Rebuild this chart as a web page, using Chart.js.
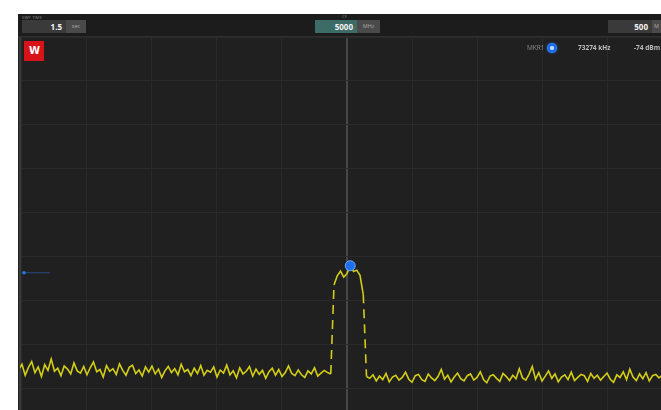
<!DOCTYPE html>
<html>
<head>
<meta charset="utf-8">
<script src="https://cdn.jsdelivr.net/npm/chart.js@4/dist/chart.umd.min.js"></script>
<style>
  html, body { margin: 0; padding: 0; background: #ffffff; }
  body { width: 661px; height: 410px; overflow: hidden; position: relative; font-family: "Open Sans", "Noto Sans", sans-serif; }
  #panel { position: absolute; left: 18px; top: 14px; width: 643px; height: 396px; background: #202020; overflow: hidden; }
  #bar { position: absolute; left: 0; top: 0; width: 643px; height: 22px; background: #1c1c1c; border-bottom: 1px solid #2e2e2e; }
  #wrap { position: absolute; left: 0; top: 0; width: 643px; height: 396px; }
  .lbl { position: absolute; color: #8a8a8a; font-size: 4px; line-height: 4px; letter-spacing: 0.2px; }
  .box { position: absolute; height: 13px; display: flex; }
  .val { background: #3a3a3a; color: #f2f2f2; font-weight: 700; font-size: 8px; line-height: 13px; text-align: right; padding-right: 4px; box-sizing: border-box; }
  .unit { background: #4a4a4a; color: #a8a8a8; font-size: 5.5px; line-height: 13px; text-align: center; overflow: hidden; }
  #logo { position: absolute; left: 6px; top: 27px; width: 20px; height: 20px; background: #d8141a; color: #fff; font-weight: 700; font-size: 10px; line-height: 20px; text-align: center; font-family: "DejaVu Sans", sans-serif; letter-spacing: -1px; }
  .leg { position: absolute; top: 30px; font-size: 6.5px; line-height: 8px; white-space: nowrap; }
  #mdot { position: absolute; left: 529px; top: 29px; width: 10px; height: 10px; border-radius: 50%; background: #1e6ff0; box-shadow: 0 0 2px #3f8cff; }
  #mdot span { position: absolute; left: 3px; top: 3px; width: 4px; height: 4px; border-radius: 50%; background: #cfe3ff; }
</style>
</head>
<body>
<div id="panel">
  <div id="wrap"><canvas id="c" width="643" height="396"></canvas></div>
  <div id="bar">
    <div class="lbl" style="left:4px; top:2px;">SWP TIME</div>
    <div class="box" style="left:4px; top:6px;">
      <div class="val" style="width:44px;">1.5</div>
      <div class="unit" style="width:20px;">sec</div>
    </div>
    <div class="lbl" style="left:324px; top:1px;">CF</div>
    <div class="box" style="left:297px; top:6px;">
      <div class="val" style="width:42px; background:#3d6b66;">5000</div>
      <div class="unit" style="width:23px;">MHz</div>
    </div>
    <div class="box" style="left:590px; top:6px;">
      <div class="val" style="width:44px;">500</div>
      <div class="unit" style="width:9px;">M</div>
    </div>
  </div>
  <div id="logo">W</div>
  <div class="leg" style="left:509px; color:#8c8c8c;">MKR1</div>
  <div id="mdot"><span></span></div>
  <div class="leg" style="left:560px; color:#bdbdbd; font-weight:700;">73274 kHz</div>
  <div class="leg" style="left:616px; color:#bdbdbd; font-weight:700;">-74 dBm</div>
</div>
<script>
// Sweep settings (MHz)
const centerFreq = 5000;
const spanFreq = 500;
const sweepStart = 4747.5;
const sweepStep = 2.5;

// Trace levels in dBm, one per sweep bin
const noiseBelow = [
  -97.6,-96.4,-98.9,-97.1,-95.8,-98.3,-97.0,-99.2,-96.5,-97.8,
  -95.2,-98.0,-97.3,-99.0,-96.8,-97.5,-98.6,-96.1,-97.9,-98.4,
  -96.9,-98.8,-97.2,-95.9,-98.1,-97.6,-99.3,-96.7,-98.0,-97.4,
  -98.7,-96.3,-97.8,-98.9,-97.1,-96.6,-98.5,-97.7,-99.1,-97.0,
  -98.2,-96.8,-98.6,-97.5,-99.4,-97.9,-96.9,-98.3,-97.4,-98.8,
  -96.4,-98.1,-97.6,-99.0,-97.3,-98.5,-96.7,-98.9,-97.8,-98.2,
  -97.0,-99.3,-97.7,-98.4,-96.6,-98.8,-97.9,-99.5,-97.2,-98.6,
  -98.0,-96.9,-99.1,-97.5,-98.7,-97.8,-99.6,-98.1,-97.3,-98.9,
  -97.6,-99.2,-98.3,-96.8,-98.5,-99.0,-97.7,-98.8,-99.4,-97.9,
  -98.6,-97.2,-99.1,-98.4,-97.8,-98.3
];
const carrier = [-98.6,-78.4,-76.3,-75.2,-76.6,-75.8,-74.0,-75.3,-75.0,-76.2,-80.5,-99.2];
const noiseAbove = [
  -99.6,-98.8,-100.2,-99.1,-99.9,-98.5,-100.4,-99.3,-98.9,-100.0,
  -99.4,-98.2,-99.8,-100.5,-99.0,-98.7,-99.9,-100.3,-98.6,-99.5,
  -100.1,-99.2,-97.6,-99.8,-98.9,-100.4,-99.3,-98.4,-99.7,-100.2,
  -99.0,-98.6,-100.0,-99.4,-98.1,-99.9,-100.6,-99.1,-98.8,-99.6,
  -100.3,-98.5,-99.2,-100.1,-98.9,-99.7,-97.4,-99.5,-100.0,-98.7,
  -96.9,-99.8,-98.3,-100.2,-99.1,-97.9,-99.6,-98.6,-100.4,-99.3,
  -98.8,-99.9,-98.2,-100.1,-99.4,-98.7,-99.0,-100.3,-98.5,-99.6,
  -98.9,-100.0,-99.2,-98.4,-99.8,-100.5,-98.8,-99.4,-98.1,-99.9,
  -97.5,-99.3,-100.1,-98.6,-99.7,-98.3,-100.2,-99.0,-98.7,-99.5,
  -98.9,-99.6
];

// Marker 1 and reference level
const markerFreq = 5002.5;
const markerLevel = -74;
const refLevel = -75.6;

// Display levels
const topLevel = -22;
const dbPerDiv = 10;
const bottomLevel = -106.8;
const freqMin = 4748.5;
const freqMax = 5241.5;

const levels = noiseBelow.concat(carrier, noiseAbove);
const trace = levels.map((v, i) => ({ x: sweepStart + i * sweepStep, y: v }));

const refArrow = {
  id: 'refArrow',
  afterDatasetsDraw(chart) {
    const { ctx, chartArea, scales } = chart;
    const y = scales.y.getPixelForValue(refLevel);
    ctx.save();
    ctx.strokeStyle = 'rgba(40,110,220,0.55)';
    ctx.lineWidth = 1;
    ctx.beginPath();
    ctx.moveTo(chartArea.left + 3, y);
    ctx.lineTo(chartArea.left + 30, y);
    ctx.stroke();
    ctx.fillStyle = '#2a78e8';
    ctx.beginPath();
    ctx.arc(chartArea.left + 4, y, 1.8, 0, Math.PI * 2);
    ctx.fill();
    ctx.restore();
  }
};

new Chart(document.getElementById('c'), {
  type: 'line',
  data: {
    datasets: [
      {
        data: [{ x: markerFreq, y: markerLevel }],
        showLine: false,
        pointRadius: 5,
        pointBackgroundColor: '#1e6ff0',
        pointBorderColor: '#6fa8ff',
        pointBorderWidth: 1,
        clip: false
      },
      {
        data: trace,
        borderColor: '#d2cd16',
        borderWidth: 1.6,
        pointRadius: 0,
        tension: 0,
        segment: {
          borderDash: c => Math.abs(c.p1.parsed.y - c.p0.parsed.y) > 8 ? [9, 6] : undefined
        }
      }
    ]
  },
  options: {
    responsive: false,
    animation: false,
    devicePixelRatio: 1,
    layout: { autoPadding: false, padding: { left: 2, top: 23, right: 0, bottom: 0 } },
    plugins: { legend: { display: false }, tooltip: { enabled: false } },
    scales: {
      x: {
        type: 'linear',
        min: freqMin,
        max: freqMax,
        afterFit: s => { s.height = 0; },
        afterBuildTicks: s => {
          const t = [];
          for (let f = centerFreq - spanFreq / 2; f <= freqMax; f += spanFreq / 10) t.push({ value: f });
          s.ticks = t;
        },
        ticks: { display: false },
        border: { display: false },
        grid: {
          drawTicks: false,
          color: c => c.tick && c.tick.value === centerFreq ? '#474747' : '#2a2a2a',
          lineWidth: c => c.tick && c.tick.value === centerFreq ? 2 : 1
        }
      },
      y: {
        min: bottomLevel,
        max: topLevel,
        afterFit: s => { s.width = 0; },
        afterBuildTicks: s => {
          const t = [];
          for (let v = topLevel; v >= bottomLevel; v -= dbPerDiv) t.push({ value: v });
          s.ticks = t;
        },
        ticks: { display: false },
        border: { display: true, color: '#3a3a3a', width: 2 },
        grid: { drawTicks: false, color: '#2a2a2a', lineWidth: 1 }
      }
    }
  },
  plugins: [refArrow]
});
</script>
</body>
</html>
